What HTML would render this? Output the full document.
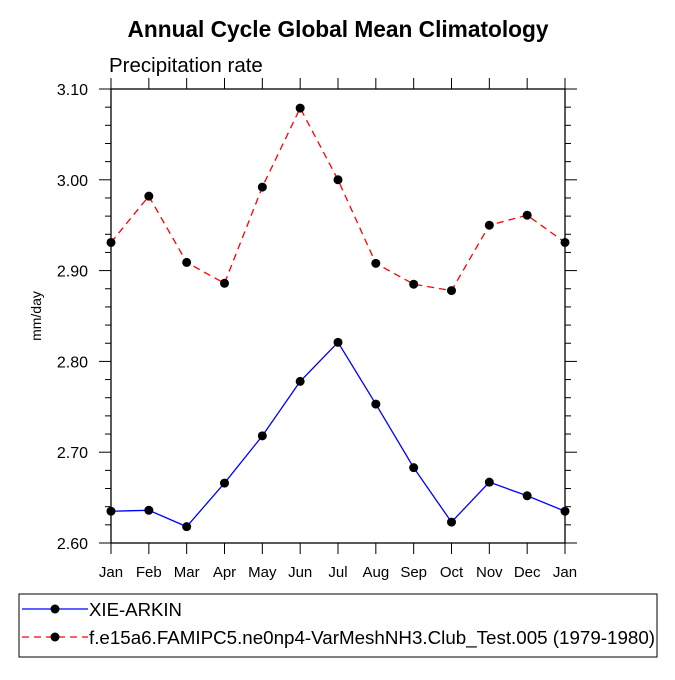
<!DOCTYPE html>
<html><head><meta charset="utf-8"><style>
body{margin:0;background:#fff;font-family:"Liberation Sans",sans-serif}
</style></head><body>
<svg width="675" height="675" viewBox="0 0 675 675" font-family="Liberation Sans, sans-serif">
<text x="338" y="37" text-anchor="middle" font-size="22.7" font-weight="bold">Annual Cycle Global Mean Climatology</text>
<text x="109" y="72" font-size="20.5">Precipitation rate</text>
<text x="41" y="316" font-size="14" text-anchor="middle" transform="rotate(-90 41 316)">mm/day</text>
<g id="axes"></g>
<g id="marks"></g>
<rect x="19" y="594" width="638" height="63" fill="none" stroke="#000" stroke-width="1"/>
<g>
<line x1="22" y1="609" x2="88" y2="609" stroke="#00f" stroke-width="1.2"/>
<circle cx="55" cy="609" r="4.5" fill="#000"/>
<text x="89" y="616" font-size="18.6">XIE-ARKIN</text></g>
<g>
<line x1="22" y1="637" x2="88" y2="637" stroke="#f00" stroke-width="1.2" stroke-dasharray="7,5"/>
<circle cx="55" cy="637" r="4.5" fill="#000"/>
<text x="89" y="644" font-size="18.6" textLength="566" lengthAdjust="spacingAndGlyphs">f.e15a6.FAMIPC5.ne0np4-VarMeshNH3.Club_Test.005 (1979-1980)</text></g>
</svg>
<script>
const months=["Jan","Feb","Mar","Apr","May","Jun","Jul","Aug","Sep","Oct","Nov","Dec","Jan"];
const obsValues=[2.635,2.636,2.618,2.666,2.718,2.778,2.821,2.753,2.683,2.623,2.667,2.652,2.635];
const modelValues=[2.931,2.982,2.909,2.886,2.992,3.079,3.000,2.908,2.885,2.878,2.950,2.961,2.931];
const yTicks=[2.60,2.70,2.80,2.90,3.00,3.10];
const yTickLabels=["2.60","2.70","2.80","2.90","3.00","3.10"];
const NS="http://www.w3.org/2000/svg";
const L=111,R=565,T=89,B=543,yMin=2.6,yMax=3.1;
const xs=i=>L+(R-L)*i/(months.length-1);
const ys=v=>B-(v-yMin)/(yMax-yMin)*(B-T);
function mk(tag,a,p){const e=document.createElementNS(NS,tag);for(const k in a)e.setAttribute(k,a[k]);p.appendChild(e);return e;}
const ax=document.getElementById('axes'),mg=document.getElementById('marks');
const fr=mk('rect',{x:L,y:T,width:R-L,height:B-T,fill:'none',stroke:'#000','stroke-width':1.3},ax);


months.forEach((m,i)=>{const x=xs(i);
mk('line',{x1:x,y1:B,x2:x,y2:B+11,stroke:'#000'},ax);
mk('line',{x1:x,y1:T,x2:x,y2:T-11,stroke:'#000'},ax);
const t=mk('text',{x:x,y:B+34,'text-anchor':'middle','font-size':15},ax);t.textContent=m;

});
for(let k=0;k<=25;k++){const v=yMin+k*0.02,y=ys(v),maj=k%5==0,len=maj?12:6;
mk('line',{x1:L,y1:y,x2:L-len,y2:y,stroke:'#000'},ax);
mk('line',{x1:R,y1:y,x2:R+len,y2:y,stroke:'#000'},ax);}
yTicks.forEach((v,i)=>{const t=mk('text',{x:L-23,y:ys(v)+6,'text-anchor':'end','font-size':16},ax);t.textContent=yTickLabels[i];

});
function series(vals,color,dash,name){
const p=mk('polyline',{points:vals.map((v,i)=>xs(i)+','+ys(v)).join(' '),fill:'none',stroke:color,'stroke-width':1.3,'stroke-dasharray':dash},mg);


vals.forEach((v,i)=>{const c=mk('circle',{cx:xs(i),cy:ys(v),r:4.5,fill:'#000'},mg);

});}
series(obsValues,'#00f','none','xie-arkin');
series(modelValues,'#f00','7,5','model');
</script>
</body></html>
